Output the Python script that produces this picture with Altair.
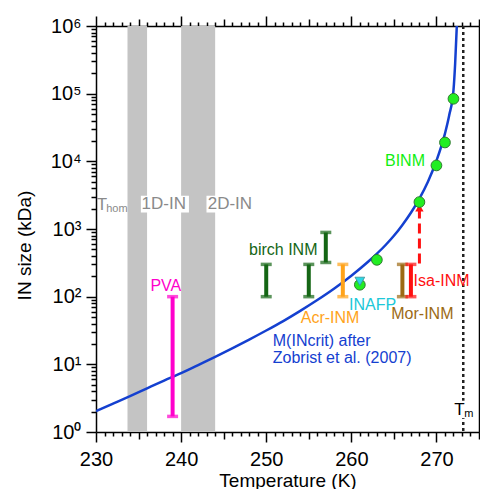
import altair as alt
import pandas as pd

# ---------------- data ----------------
curve_T = [230, 232, 234, 236, 238, 240, 242, 244, 246, 248, 250, 252, 254, 256, 258,
           260, 262, 264, 265, 266, 267, 268, 269, 270, 271, 271.5, 272, 272.2, 272.4]
curve_M = [2.04, 2.63, 3.39, 4.42, 5.75, 7.41, 9.77, 12.9, 17.2, 23.2, 31.6, 43.6, 61.7, 89.1, 132,
           204, 331, 575, 794, 1150, 1740, 2820, 5010, 10200, 25700, 47900, 112000, 282000, 1050000]

binm_T = [263, 268, 270, 271, 272]
binm_M = [350, 2500, 8700, 19000, 84000]

inafp_T = [261]
inafp_circle = [150]
inafp_tri = [168]

bar_names = ["PVA", "birch1", "birch2", "birch3", "Acr", "Mor", "Isa"]
bar_T = [239, 250, 255, 257, 259, 266, 267]
bar_lo = [1.7, 100, 100, 320, 100, 100, 100]
bar_hi = [100, 300, 300, 890, 300, 300, 300]
bar_col = ["#ff00cc", "#156615", "#156615", "#156615", "#ffa31a", "#9c6a14", "#ff1010"]

band_lo = [233.7, 240]
band_hi = [236, 244]

arrow_T = [268]
arrow_lo = [310]
arrow_hi = [1950]
arrow_head = [2050]

Tm = 273.15

lab_text = ["PVA", "birch INM", "Acr-INM", "INAFP", "Mor-INM", "Isa-INM", "BINM"]
lab_T = [238.2, 252.0, 257.5, 262.5, 268.35, 270.6, 266.3]
lab_M = [142, 490, 49, 76, 56, 169, 10200]
lab_col = ["#ff00cc", "#156615", "#ffa31a", "#20c8d8", "#9c6a14", "#ff1010", "#11ee11"]

zob_text = ["M(INcrit) after", "Zobrist et al. (2007)"]
zob_T = [250.77, 250.77]
zob_M = [22, 12.2]

box_T1 = [235.27, 242.98]
box_T2 = [240.92, 248.6]
box_M1 = [1760, 1760]
box_M2 = [3090, 3090]

gray_text = ["1D-IN", "2D-IN"]
gray_T = [237.96, 245.73]
gray_M = [2330, 2330]

tm_box_T = [271.8, 274.6]
tm_box_M = [1.6, 2.9]

x_ticks = list(range(230, 276))
y_ticks = [m * 10 ** e for e in range(0, 6) for m in range(1, 10)] + [10 ** 6]

FONT = "Liberation Sans"
BLUE = "#1440d0"
GRAY = "#8a8a8a"

xs = alt.Scale(domain=[230, 275], nice=False, zero=False)
ys = alt.Scale(type="log", domain=[1, 1e6], nice=False)


def X(f, **kw):
    return alt.X(f, type="quantitative", scale=xs, axis=None, **kw)


def Y(f, **kw):
    return alt.Y(f, type="quantitative", scale=ys, axis=None, **kw)


# ---------------- layers ----------------
bands = alt.Chart(pd.DataFrame({"a": band_lo, "b": band_hi})).mark_rect(color="#c4c4c4").encode(
    x=X("a"), x2="b", y=alt.value(0), y2=alt.value(406))

boxes = alt.Chart(pd.DataFrame({"a": box_T1, "b": box_T2, "c": box_M1, "d": box_M2})).mark_rect(
    color="white").encode(x=X("a"), x2="b", y=Y("c"), y2="d")

gray_lbl = alt.Chart(pd.DataFrame({"t": gray_text, "T": gray_T, "M": gray_M})).mark_text(
    font=FONT, fontSize=17, color=GRAY, baseline="middle").encode(x=X("T"), y=Y("M"), text="t:N")

thom_T = alt.Chart(pd.DataFrame({"t": ["T"], "T": [230.1], "M": [2280]})).mark_text(
    font=FONT, fontSize=17, color=GRAY, align="left", baseline="middle").encode(x=X("T"), y=Y("M"), text="t:N")
thom_s = alt.Chart(pd.DataFrame({"t": ["hom"], "T": [231.2], "M": [1950]})).mark_text(
    font=FONT, fontSize=11, color=GRAY, align="left", baseline="middle").encode(x=X("T"), y=Y("M"), text="t:N")

curve = alt.Chart(pd.DataFrame({"T": curve_T, "M": curve_M})).mark_line(
    color=BLUE, strokeWidth=2.5, interpolate="monotone", clip=True).encode(x=X("T"), y=Y("M"))

tm_line = alt.Chart(pd.DataFrame({"T": [Tm]})).mark_rule(
    color="#222222", strokeWidth=2.5, strokeDash=[3, 3]).encode(x=X("T"))

tm_box = alt.Chart(pd.DataFrame({"a": [tm_box_T[0]], "b": [tm_box_T[1]], "c": [tm_box_M[0]],
                                 "d": [tm_box_M[1]]})).mark_rect(color="white").encode(
    x=X("a"), x2="b", y=Y("c"), y2="d")

bars_df = pd.DataFrame({"n": bar_names, "T": bar_T, "lo": bar_lo, "hi": bar_hi, "c": bar_col})
bar_rules = alt.Chart(bars_df).mark_rule(strokeWidth=4).encode(
    x=X("T"), y=Y("lo"), y2="hi", color=alt.Color("c:N", scale=None))
cap_lo = alt.Chart(bars_df).mark_tick(orient="horizontal", size=11, thickness=3.5).encode(
    x=X("T"), y=Y("lo"), color=alt.Color("c:N", scale=None))
cap_hi = alt.Chart(bars_df).mark_tick(orient="horizontal", size=11, thickness=3.5).encode(
    x=X("T"), y=Y("hi"), color=alt.Color("c:N", scale=None))

arrow_line = alt.Chart(pd.DataFrame({"T": arrow_T, "lo": arrow_lo, "hi": arrow_hi})).mark_rule(
    color="#ff1010", strokeWidth=3, strokeDash=[10, 5]).encode(x=X("T"), y=Y("lo"), y2="hi")
arrow_tip = alt.Chart(pd.DataFrame({"T": arrow_T, "M": arrow_head})).mark_point(
    shape="triangle-up", filled=True, color="#ff1010", size=70, opacity=1).encode(x=X("T"), y=Y("M"))

pts = alt.Chart(pd.DataFrame({"T": binm_T + inafp_T, "M": binm_M + inafp_circle})).mark_point(
    shape="circle", filled=True, fill="#22ee22", stroke="#2f7a2f", strokeWidth=1, size=115, opacity=1).encode(
    x=X("T"), y=Y("M"))
tri = alt.Chart(pd.DataFrame({"T": inafp_T, "M": inafp_tri})).mark_point(
    shape="triangle-down", filled=True, fill="#2ad8e6", stroke="#3a8f95", strokeWidth=0.8, size=95, opacity=1).encode(
    x=X("T"), y=Y("M"))

labels = alt.Chart(pd.DataFrame({"t": lab_text, "T": lab_T, "M": lab_M, "c": lab_col})).mark_text(
    font=FONT, fontSize=16, baseline="middle").encode(
    x=X("T"), y=Y("M"), text="t:N", color=alt.Color("c:N", scale=None))

zob = alt.Chart(pd.DataFrame({"t": zob_text, "T": zob_T, "M": zob_M})).mark_text(
    font=FONT, fontSize=16, align="left", baseline="middle", color=BLUE).encode(
    x=X("T"), y=Y("M"), text="t:N")

tm_T = alt.Chart(pd.DataFrame({"t": ["T"], "T": [272.69], "M": [2.1]})).mark_text(
    font=FONT, fontSize=17, color="black", baseline="middle").encode(x=X("T"), y=Y("M"), text="t:N")
tm_s = alt.Chart(pd.DataFrame({"t": ["m"], "T": [273.8], "M": [1.85]})).mark_text(
    font=FONT, fontSize=11, color="black", baseline="middle").encode(x=X("T"), y=Y("M"), text="t:N")

# ---------------- axes ----------------
x_tick_size = {"condition": [{"test": "datum.value % 10 === 0", "value": 10},
                             {"test": "datum.value % 5 === 0", "value": 7}], "value": 4}
y_is_decade = "abs(log(datum.value)/LN10 - round(log(datum.value)/LN10)) < 0.001"
y_tick_size = {"condition": {"test": y_is_decade, "value": 10}, "value": 5}
sup = "['\u2070','\u00b9','\u00b2','\u00b3','\u2074','\u2075','\u2076']"

common = dict(domainColor="black", domainWidth=1.5, tickColor="black", tickWidth=1.5,
              grid=False, labelFont=FONT, labelFontSize=20, labelColor="black",
              labelOverlap=False, labelFlush=False, titleFont=FONT, titleFontSize=19,
              titleFontWeight="normal", titleColor="black")
plain = {k: v for k, v in common.items() if not k.startswith("label") and not k.startswith("title")}

x_bottom = alt.Axis(orient="bottom", values=x_ticks, tickSize=x_tick_size,
                    labelExpr="datum.value % 10 === 0 ? datum.label : ''",
                    labelPadding=7, title="Temperature (K)", titleY=48, titleBaseline="middle",
                    **common)
y_left = alt.Axis(orient="left", values=y_ticks, tickSize=y_tick_size,
                  labelExpr=f"({y_is_decade}) ? '10' + {sup}[round(log(datum.value)/LN10)] : ''",
                  labelPadding=5, title="IN size (kDa)", titleX=-72, titleY=219,
                  titleAlign="center", titleBaseline="middle", **common)
x_top = alt.Axis(orient="top", values=x_ticks, tickSize=x_tick_size, labels=False, title=None, **plain)
y_right = alt.Axis(orient="right", values=y_ticks, tickSize=y_tick_size, labels=False, title=None, **plain)

axis_df = pd.DataFrame({"T": [250], "M": [100]})
axes_main = alt.Chart(axis_df).mark_point(opacity=0).encode(
    x=alt.X("T:Q", scale=xs, axis=x_bottom), y=alt.Y("M:Q", scale=ys, axis=y_left))
axes_mirror = alt.Chart(axis_df).mark_point(opacity=0).encode(
    x=alt.X("T:Q", scale=xs, axis=x_top), y=alt.Y("M:Q", scale=ys, axis=y_right))

chart = alt.layer(
    bands, boxes, gray_lbl, thom_T, thom_s, curve, tm_line, tm_box, bar_rules, cap_lo, cap_hi,
    arrow_line, arrow_tip, pts, tri, labels, zob, tm_T, tm_s, axes_main, axes_mirror
).resolve_axis(x="independent", y="independent").properties(
    width=383, height=406,
    autosize=alt.AutoSizeParams(type="none"),
    padding={"left": 88, "top": 18, "right": 1, "bottom": 57},
    background="white",
).configure_view(stroke=None)

chart.save("out.html", embed_options={"renderer": "svg", "actions": False})
